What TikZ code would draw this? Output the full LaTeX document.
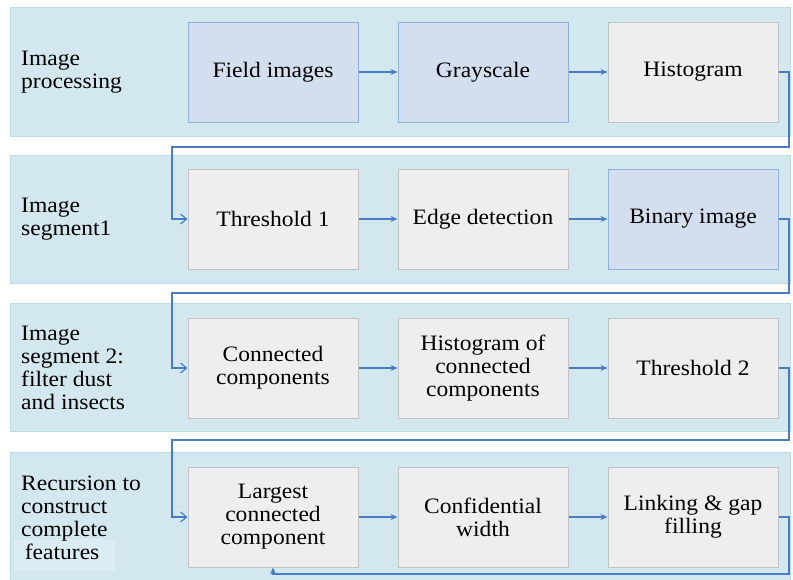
\documentclass[tikz,border=0pt]{standalone}
\usepackage{fontspec}
\setmainfont{Liberation Serif}[FakeStretch=1.07]
\usetikzlibrary{arrows.meta}
\definecolor{bandfill}{HTML}{D3E8EE}
\definecolor{bandline}{HTML}{BEDCE6}
\definecolor{bluefill}{HTML}{D3DFEF}
\definecolor{blueline}{HTML}{8FB1DE}
\definecolor{grayfill}{HTML}{EEEEEE}
\definecolor{grayline}{HTML}{C2C2C2}
\definecolor{conn}{HTML}{4A7CC6}
\definecolor{patch}{HTML}{DAEDF2}
\begin{document}
\begin{tikzpicture}[x=1pt,y=-1pt,
  font=\fontsize{22}{23}\selectfont,
  band/.style={draw=bandline, fill=bandfill, line width=1pt},
  bluebox/.style={draw=blueline, fill=bluefill, line width=1pt, minimum width=170pt, minimum height=100pt, align=center, inner sep=0pt},
  graybox/.style={draw=grayline, fill=grayfill, line width=1pt, minimum width=170pt, minimum height=100pt, align=center, inner sep=0pt},
  lbl/.style={anchor=west, align=left, inner sep=0pt},
  flow/.style={draw=conn, line width=1.2pt, -{Stealth[length=7pt,width=6pt]}},
  back/.style={draw=conn, line width=1.2pt, -{Straight Barb[length=6pt,width=10pt]}},
]
\useasboundingbox (0,0) rectangle (793,579);
% bands
\fill[band] (10,7) rectangle (790,136);
\fill[band] (10,155) rectangle (790,283);
\fill[band] (10,303) rectangle (790,431);
\fill[band] (10,452) rectangle (790,585);
\fill[patch] (14,539) rectangle (115,571);
% labels
\node[lbl] (l1) at (21,72) {Image\\processing};
\node[lbl] (l2) at (21,219) {Image\\segment1};
\node[lbl] (l3) at (21,368) {Image\\segment 2:\\filter dust\\and insects};
\node[lbl] (l4) at (21,518) {Recursion to\\construct\\complete\\\,features};
% row 1
\node[bluebox] (fi) at (273,72) {Field images};
\node[bluebox] (gs) at (483,72) {Grayscale};
\node[graybox] (hi) at (693,72) {Histogram};
% row 2
\node[graybox] (t1) at (273,219) {Threshold 1};
\node[graybox] (ed) at (483,219) {Edge detection};
\node[bluebox] (bi) at (693,219) {Binary image};
% row 3
\node[graybox] (cc) at (273,368) {Connected\\components};
\node[graybox] (hc) at (483,368) {Histogram of\\connected\\components};
\node[graybox] (t2) at (693,368) {Threshold 2};
% row 4
\node[graybox] (lc) at (273,517) {Largest\\connected\\component};
\node[graybox] (cw) at (483,517) {Confidential\\width};
\node[graybox] (lg) at (693,517) {Linking \& gap\\filling};
% flows
\draw[flow] (fi) -- (gs);
\draw[flow] (gs) -- (hi);
\draw[flow] (t1) -- (ed);
\draw[flow] (ed) -- (bi);
\draw[flow] (cc) -- (hc);
\draw[flow] (hc) -- (t2);
\draw[flow] (lc) -- (cw);
\draw[flow] (cw) -- (lg);
% returns
\draw[back] (hi.east) -- (789,72) |- (172,147) |- (t1.west);
\draw[back] (bi.east) -- (789,219) |- (172,293) |- (cc.west);
\draw[back] (t2.east) -- (789,368) |- (172,440) |- (lc.west);
\draw[flow] (lg.east) -- (789,517) |- (273,574) -- (lc.south);
\end{tikzpicture}
\end{document}
